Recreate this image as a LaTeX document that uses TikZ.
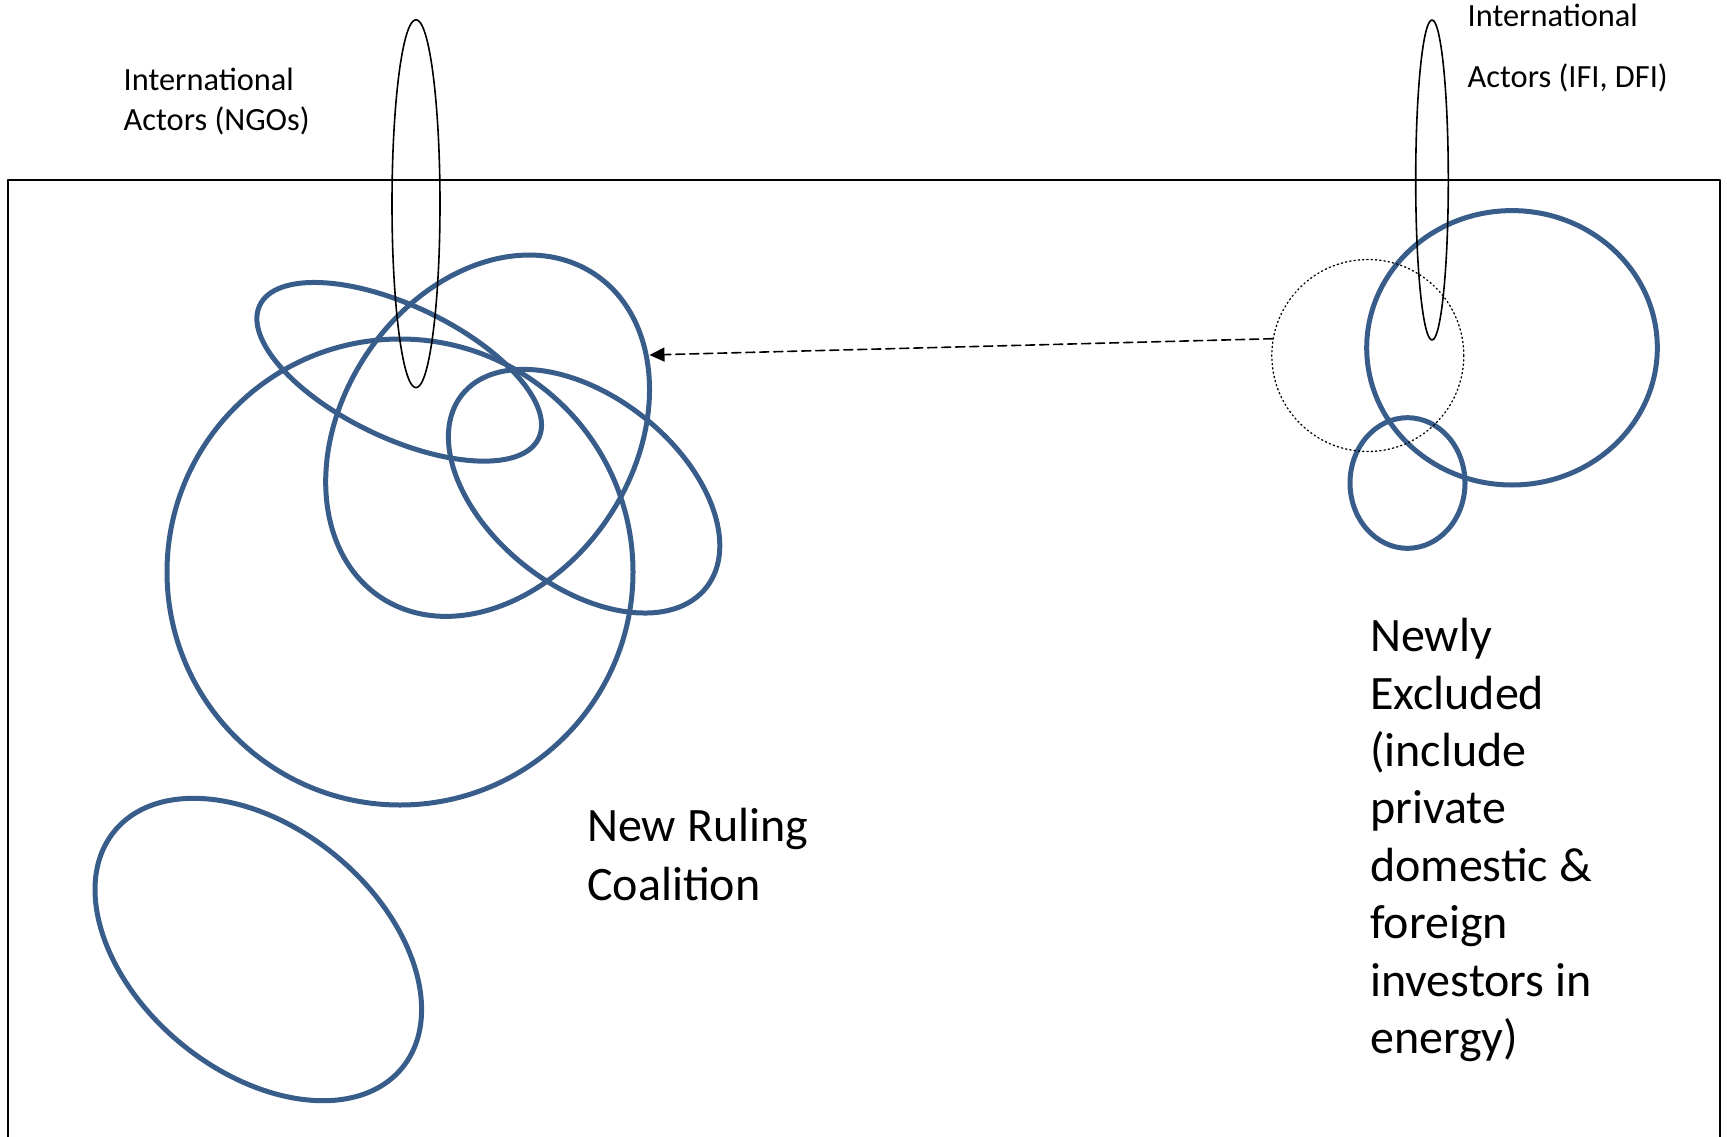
\documentclass[tikz,border=0pt]{standalone}
\usepackage{fontspec}
\setmainfont{Carlito}
\usepackage{tikz}
\usetikzlibrary{arrows.meta}
\usetikzlibrary{shapes.geometric}
\definecolor{ringblue}{RGB}{56,93,138}

\begin{document}
\begin{tikzpicture}[line cap=round,line join=round,>={Triangle[length=15pt,width=14pt]},x=1pt,y=-1pt,
  blob/.style={color=ringblue,line width=5pt},
  actor/.style={color=black,line width=1.6pt},
  small/.style={inner sep=0pt,anchor=base west,align=left,font=\fontsize{32.4}{40}\selectfont},
  big/.style={inner sep=0pt,anchor=base west,align=left,font=\fontsize{48}{57.5}\selectfont}]
\useasboundingbox (0,0) rectangle (1727,1137);

%kehys
\draw[line width=2pt] (7.8,1160) -- (7.8,179.6) -- (1720,179.6) -- (1720,1160);
\node[big,font=\fontsize{47}{57.5}\selectfont\bfseries] (title) at (1011,-7) {y};

%vasen ryhma
\foreach \cx/\cy/\a/\b/\t in {399.2/371.8/154.5/66.1/25.5, 487.6/435.7/193.8/145.9/-56.6,
  400/572/233/233/0, 584.1/491.2/155.6/95.1/38.2, 258.3/949.5/186.3/121.7/39.5}
{
\draw[blob] (\cx,\cy) circle [x radius=\a pt, y radius=\b pt, rotate=-\t];
}

%oikea ryhma
\foreach \cx/\cy/\a/\b in {1512/347.8/145.3/137.2, 1407.5/483/57.5/65.3}
{
\draw[blob] (\cx,\cy) circle [x radius=\a pt, y radius=\b pt];
}
\node[circle,draw,line width=1.3pt,dash pattern=on 1.3pt off 3pt,minimum size=192pt,inner sep=0pt] (gap) at (1367.8,355.5) {};

%kansainvaliset
\draw[actor] (416,203.7) circle [x radius=24pt, y radius=184pt];
\draw[actor] (1432,180) circle [x radius=16.3pt, y radius=160pt];
\node[small] (ngo) at (123.5,130.6) {International\\Actors (NGOs)};
\node[small,font=\fontsize{32.4}{60.6}\selectfont] (ifi) at (1467.5,87.3) {International\\Actors (IFI, DFI)};

%nuoli
\coordinate (tip) at (649.5,355);
\draw[->,line width=1.6pt,dash pattern=on 9pt off 5pt] (gap.170) -- (tip);

\node[big,font=\fontsize{48}{58.3}\selectfont] (ruling) at (587,900) {New Ruling\\Coalition};
\node[big,font=\fontsize{48}{57.4}\selectfont] (excluded) at (1370,1053.5) {Newly\\Excluded\\(include\\private\\domestic \&\\foreign\\investors in\\energy)};
\end{tikzpicture}
\end{document}
